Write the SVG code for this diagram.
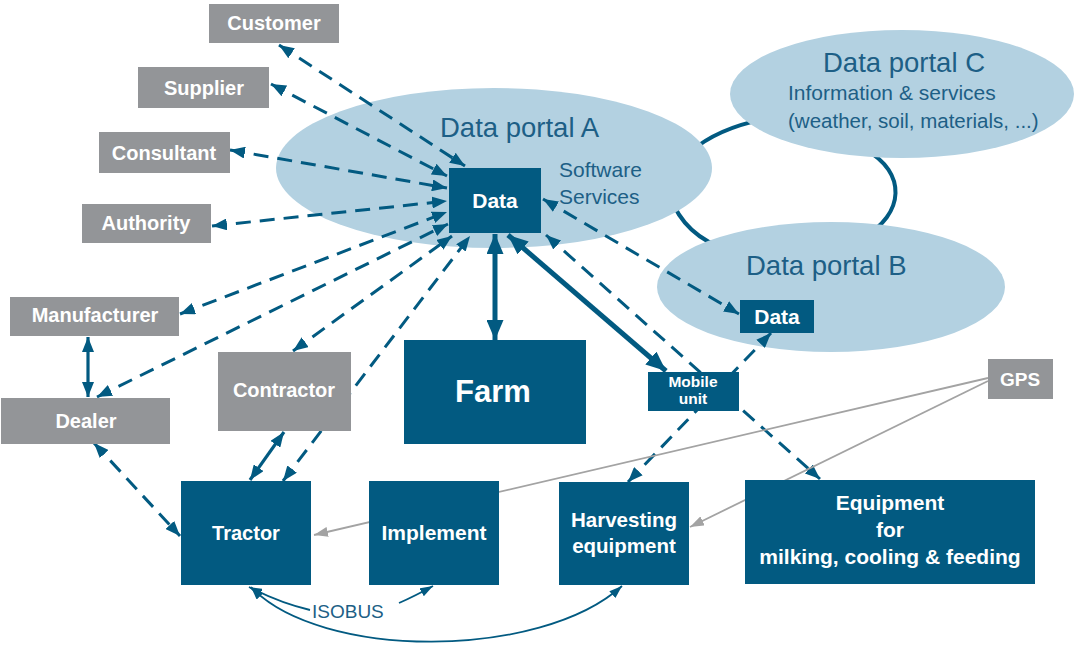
<svg xmlns="http://www.w3.org/2000/svg" width="1076" height="646" viewBox="0 0 1076 646">
<style>
  .gbox{fill:#939598}
  .bbox{fill:#025a81}
  .portal{fill:#b3d1e1}
  .lb{font-family:"Liberation Sans",Arial,sans-serif;font-weight:bold;fill:#ffffff;text-anchor:middle}
  .pt{font-family:"Liberation Sans",Arial,sans-serif;fill:#1d5f86}
  .dash{fill:none;stroke:#025a81;stroke-width:3;stroke-dasharray:15 9}
  .solid{fill:none;stroke:#025a81;stroke-width:3.2}
  .thick{fill:none;stroke:#025a81;stroke-width:5}
  .thin{fill:none;stroke:#025a81;stroke-width:1.8}
  .gps{fill:none;stroke:#a3a3a3;stroke-width:1.8}
  .ring{fill:none;stroke:#025a81;stroke-width:4}
</style>
<defs>
  <marker id="ad" viewBox="0 0 15 12" refX="15" refY="6" markerWidth="15" markerHeight="12" markerUnits="userSpaceOnUse" orient="auto-start-reverse"><path d="M0,0 L15,6 L0,12 z" fill="#025a81"/></marker>
  <marker id="ab" viewBox="0 0 20 17" refX="20" refY="8.5" markerWidth="20" markerHeight="17" markerUnits="userSpaceOnUse" orient="auto-start-reverse"><path d="M0,0 L20,8.5 L0,17 z" fill="#025a81"/></marker>
  <marker id="ag" viewBox="0 0 14 10" refX="14" refY="5" markerWidth="14" markerHeight="10" markerUnits="userSpaceOnUse" orient="auto-start-reverse"><path d="M0,0 L14,5 L0,10 z" fill="#a3a3a3"/></marker>
  <marker id="at" viewBox="0 0 13 9" refX="13" refY="4.5" markerWidth="13" markerHeight="9" markerUnits="userSpaceOnUse" orient="auto-start-reverse"><path d="M0,0 L13,4.5 L0,9 z" fill="#025a81"/></marker>
</defs>
<rect width="1076" height="646" fill="#ffffff"/>

<g id="portal-links">
  <path class="ring" d="M690 152 Q718 128 765 119"/>
  <path class="ring" d="M866 150 C906 172 906 214 862 238"/>
  <path class="ring" d="M670 196 Q684 236 728 250"/>
</g>

<g id="portal-a">
  <ellipse class="portal" cx="494" cy="168" rx="218" ry="80"/>
  <text class="pt" x="440" y="137" font-size="27.5">Data portal A</text>
  <text class="pt" x="559" y="177" font-size="21">Software</text>
  <text class="pt" x="559" y="204" font-size="21">Services</text>
</g>
<g id="portal-c">
  <ellipse class="portal" cx="902" cy="94" rx="172" ry="64"/>
  <text class="pt" x="823" y="72" font-size="27.5">Data portal C</text>
  <text class="pt" x="788" y="100" font-size="21">Information &amp; services</text>
  <text class="pt" x="788" y="128" font-size="20.5">(weather, soil, materials, ...)</text>
</g>
<g id="portal-b">
  <ellipse class="portal" cx="831" cy="287" rx="174" ry="65"/>
  <text class="pt" x="746" y="275" font-size="27.5">Data portal B</text>
</g>

<g id="connectors">
  <line class="dash" x1="279" y1="45" x2="465" y2="166" marker-start="url(#ad)" marker-end="url(#ad)"/>
  <line class="dash" x1="271" y1="84" x2="447" y2="176" marker-start="url(#ad)" marker-end="url(#ad)"/>
  <line class="dash" x1="230" y1="150" x2="447" y2="188" marker-start="url(#ad)" marker-end="url(#ad)"/>
  <line class="dash" x1="212" y1="226" x2="447" y2="201" marker-start="url(#ad)" marker-end="url(#ad)"/>
  <line class="dash" x1="180" y1="314" x2="447" y2="212" marker-start="url(#ad)" marker-end="url(#ad)"/>
  <line class="dash" x1="97" y1="397" x2="448" y2="224" marker-start="url(#ad)" marker-end="url(#ad)"/>
  <line class="dash" x1="293" y1="351" x2="452" y2="236" marker-start="url(#ad)" marker-end="url(#ad)"/>
  <line class="dash" x1="283" y1="481" x2="470" y2="236" marker-start="url(#ad)" marker-end="url(#ad)"/>
  <line class="solid" x1="284" y1="432" x2="250" y2="480" marker-start="url(#ad)" marker-end="url(#ad)"/>
  <line class="solid" x1="88" y1="337" x2="88" y2="397" stroke-width="4" marker-start="url(#ad)" marker-end="url(#ad)"/>
  <line class="dash" x1="94" y1="443" x2="180" y2="536" marker-start="url(#ad)" marker-end="url(#ad)"/>
  <line class="thick" x1="495" y1="234" x2="495" y2="340" marker-start="url(#ab)" marker-end="url(#ab)"/>
  <line class="thick" x1="508" y1="235" x2="666" y2="371" marker-start="url(#ab)" marker-end="url(#ab)"/>
  <line class="dash" x1="543" y1="199" x2="739" y2="314" marker-start="url(#ad)" marker-end="url(#ad)"/>
  <line class="dash" x1="546" y1="235" x2="820" y2="479" marker-start="url(#ad)" marker-end="url(#ad)"/>
  <line class="dash" x1="628" y1="482" x2="771" y2="333" marker-start="url(#ad)" marker-end="url(#ad)"/>
  <line class="gps" x1="988" y1="378" x2="314" y2="535" marker-end="url(#ag)"/>
  <line class="gps" x1="988" y1="381" x2="690" y2="527" marker-end="url(#ag)"/>
  <path class="thin" d="M310 610 Q280 603 249 587" marker-end="url(#at)"/>
  <path class="thin" d="M399 603 Q415 596 433 586" marker-end="url(#at)"/>
  <path class="thin" d="M251 587 C320 660 540 660 622 586" marker-start="url(#at)" marker-end="url(#at)"/>
</g>

<g id="customer"><rect class="gbox" x="209" y="4" width="130" height="39"/><text class="lb" x="274" y="30" font-size="20">Customer</text></g>
<g id="supplier"><rect class="gbox" x="138" y="67" width="131" height="41"/><text class="lb" x="204" y="95" font-size="20">Supplier</text></g>
<g id="consultant"><rect class="gbox" x="99" y="132" width="131" height="41"/><text class="lb" x="164" y="160" font-size="20">Consultant</text></g>
<g id="authority"><rect class="gbox" x="82" y="204" width="129" height="39"/><text class="lb" x="146" y="230" font-size="20">Authority</text></g>
<g id="manufacturer"><rect class="gbox" x="10" y="297" width="169" height="39"/><text class="lb" x="95" y="322" font-size="20">Manufacturer</text></g>
<g id="dealer"><rect class="gbox" x="1" y="398" width="169" height="46"/><text class="lb" x="86" y="428" font-size="20">Dealer</text></g>
<g id="contractor"><rect class="gbox" x="218" y="352" width="133" height="79"/><text class="lb" x="284" y="397" font-size="20">Contractor</text></g>
<g id="gps"><rect class="gbox" x="988" y="359" width="65" height="40"/><text class="lb" x="1020" y="386" font-size="19">GPS</text></g>

<g id="data-a"><rect class="bbox" x="449" y="168" width="92" height="65"/><text class="lb" x="495" y="208" font-size="21">Data</text></g>
<g id="data-b"><rect class="bbox" x="740" y="300" width="74" height="33"/><text class="lb" x="777" y="324" font-size="21">Data</text></g>
<g id="farm"><rect class="bbox" x="404" y="340" width="182" height="104"/><text class="lb" x="493" y="402" font-size="31">Farm</text></g>
<g id="mobile-unit"><rect class="bbox" x="648" y="372" width="91" height="39"/><text class="lb" x="693" y="387" font-size="15.5">Mobile</text><text class="lb" x="693" y="404" font-size="15.5">unit</text></g>
<g id="tractor"><rect class="bbox" x="181" y="481" width="130" height="104"/><text class="lb" x="246" y="540" font-size="20">Tractor</text></g>
<g id="implement"><rect class="bbox" x="369" y="481" width="130" height="104"/><text class="lb" x="434" y="540" font-size="21">Implement</text></g>
<g id="harvesting"><rect class="bbox" x="559" y="482" width="130" height="103"/><text class="lb" x="624" y="527" font-size="20.5">Harvesting</text><text class="lb" x="624" y="553" font-size="20.5">equipment</text></g>
<g id="equipment"><rect class="bbox" x="745" y="480" width="290" height="104"/><text class="lb" x="890" y="510" font-size="21">Equipment</text><text class="lb" x="890" y="537" font-size="21">for</text><text class="lb" x="890" y="564" font-size="21">milking, cooling &amp; feeding</text></g>

<g id="isobus-label"><text class="pt" x="312" y="618" font-size="19">ISOBUS</text></g>
</svg>
